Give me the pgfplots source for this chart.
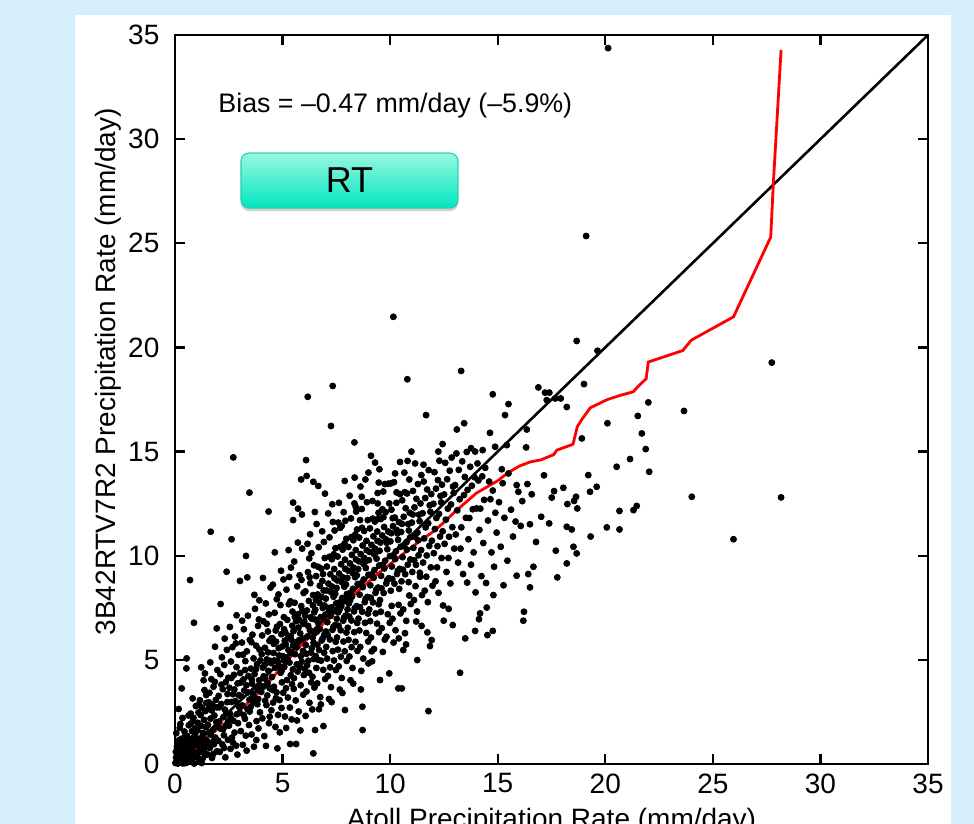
\documentclass[border=0pt]{standalone}
\usepackage{fontspec}
\setmainfont{Liberation Sans}
\usepackage{pgfplots}
\pgfplotsset{compat=1.18}
\usetikzlibrary{shadows}
\definecolor{bgblue}{RGB}{214,239,252}
\definecolor{rttop}{RGB}{152,248,224}
\definecolor{rtbot}{RGB}{0,230,192}
\definecolor{rtedge}{RGB}{40,210,176}

% quantile curve (red)
\pgfplotstableread{
x y
0 0
0.5 0.4
1 0.85
1.5 1.3
2 1.7
2.5 2.1
3 2.55
3.5 3.05
4 3.55
4.5 4.1
5 4.7
5.5 5.3
6 5.85
6.5 6.35
7 6.85
7.5 7.35
8 7.85
8.5 8.3
9 8.75
9.5 9.2
10 9.6
10.5 10.0
11 10.4
11.5 10.8
12 11.15
12.5 11.6
13 12.1
13.5 12.55
14 13.0
14.5 13.3
15 13.6
15.5 14.0
16 14.3
16.5 14.5
17 14.6
17.6 14.85
17.75 15.07
18.5 15.35
18.7 16.2
18.95 16.6
19.3 17.1
20.1 17.5
20.7 17.7
21.3 17.87
21.5 18.1
21.9 18.5
22.0 19.3
23.6 19.85
24.0 20.35
25.96 21.47
27.69 25.3
27.81 27.86
28.17 34.28
}\qqline

\begin{document}
\begin{tikzpicture}
\path[use as bounding box] (0,0) rectangle (487pt,412pt);
\clip (0,0) rectangle (487pt,412pt);
\fill[bgblue] (0,0) rectangle (487pt,412pt);
\fill[white] (37.5pt,-5pt) rectangle (475.5pt,404.5pt);
\begin{axis}[
  at={(87.5pt,30pt)}, anchor=south west,
  scale only axis, width=376.5pt, height=364.5pt,
  xmin=0, xmax=35, ymin=0, ymax=35,
  xtick={0,5,...,35}, ytick={0,5,...,35},
  tick pos=both, tick align=inside,
  major tick length=5pt,
  axis line style={line width=1.2pt},
  every tick/.style={black, line width=1.1pt},
  tick label style={font=\fontsize{14}{16}\selectfont},
  label style={font=\fontsize{14}{16}\selectfont},
  /pgf/number format/assume math mode=true,
  yticklabel style={xshift=-4.3pt},
  xticklabel style={yshift=-1.3pt},
  xlabel={Atoll Precipitation Rate (mm/day)},
  ylabel={3B42RTV7R2 Precipitation Rate (mm/day)},
  xlabel style={at={(axis description cs:0.5,-0.0878)}, anchor=base},
  ylabel style={at={(axis description cs:-0.089,0.538)}, anchor=center},
]
\addplot[only marks, mark=*, mark size=1.5pt, black] coordinates {
(0.02,0.05)(0.05,0.31)(0.08,0.12)(0.11,0.64)(0.13,0.02)(0.16,0.41)(0.19,0.93)(0.21,0.18)(0.24,0.07)(0.27,0.55)
(0.29,1.21)(0.31,0.26)(0.33,0.78)(0.36,0.03)(0.38,0.47)(0.41,1.05)(0.43,0.15)(0.46,0.69)(0.48,0.34)(0.06,1.48)
(0.14,1.12)(0.22,1.73)(0.35,2.21)(0.44,1.56)(0.09,0.83)(0.18,0.22)(0.26,0.09)(0.32,0.61)(0.39,0.88)(0.47,0.04)
(0.04,0.58)(0.12,0.36)(0.28,0.44)(0.42,0.27)(0.17,2.64)(0.31,3.63)(0.25,1.92)(0.45,1.3)
(0.52,0.21)(0.55,0.73)(0.57,1.34)(0.59,0.08)(0.62,0.52)(0.64,1.86)(0.66,0.95)(0.68,0.31)(0.71,1.17)(0.73,2.42)
(0.75,0.66)(0.77,0.14)(0.79,1.58)(0.81,0.87)(0.83,2.05)(0.85,0.43)(0.87,1.29)(0.89,0.02)(0.91,0.98)(0.93,1.71)
(0.95,0.35)(0.97,2.78)(0.99,1.12)(0.56,1.02)(0.63,2.33)(0.69,0.45)(0.74,1.94)(0.82,3.15)(0.88,0.61)(0.94,1.44)
(0.58,0.39)(0.86,2.21)(0.54,5.07)(0.53,4.59)(0.70,8.83)(0.88,6.78)
(1.02,0.34)(1.04,1.62)(1.07,0.88)(1.09,2.47)(1.11,0.12)(1.13,1.21)(1.16,3.06)(1.18,0.57)(1.21,1.83)(1.23,0.96)
(1.25,2.71)(1.28,0.25)(1.30,1.49)(1.32,0.71)(1.35,2.12)(1.37,3.55)(1.39,1.05)(1.42,0.43)(1.44,1.77)(1.46,2.93)
(1.48,0.82)(1.06,1.98)(1.14,0.62)(1.19,2.35)(1.27,1.31)(1.33,4.02)(1.41,2.54)(1.47,1.14)(1.24,0.05)(1.36,0.58)
(1.39,4.35)(1.12,2.87)(1.45,3.31)(1.22,4.64)
(1.51,0.46)(1.53,1.88)(1.55,2.64)(1.58,1.03)(1.60,3.42)(1.62,0.77)(1.65,2.18)(1.67,1.41)(1.69,4.07)(1.72,0.29)
(1.74,2.85)(1.76,1.62)(1.79,3.71)(1.81,0.95)(1.83,2.33)(1.86,5.63)(1.88,1.27)(1.90,3.08)(1.92,2.01)(1.95,0.61)
(1.97,4.51)(1.99,1.79)(1.57,2.96)(1.64,4.88)(1.71,2.57)(1.78,0.48)(1.85,3.94)(1.94,2.72)(1.66,11.15)(1.94,6.51)
(1.82,1.15)(1.59,1.52)
(2.01,1.12)(2.03,3.27)(2.06,2.04)(2.08,0.58)(2.11,4.31)(2.13,1.69)(2.15,2.88)(2.18,5.12)(2.20,0.94)(2.22,3.59)
(2.25,2.25)(2.27,1.38)(2.29,4.76)(2.32,2.61)(2.34,0.32)(2.36,3.93)(2.39,1.85)(2.41,5.48)(2.43,2.97)(2.46,1.16)
(2.48,4.14)(2.05,2.72)(2.16,3.81)(2.24,1.67)(2.31,6.02)(2.38,2.43)(2.44,3.36)(2.12,7.68)(2.40,9.23)(2.28,0.77)
(2.47,2.05)
(2.51,1.84)(2.53,3.66)(2.56,2.41)(2.58,0.73)(2.60,4.92)(2.63,2.98)(2.65,1.27)(2.67,5.61)(2.70,3.35)(2.72,2.07)
(2.74,4.28)(2.77,1.51)(2.79,6.12)(2.81,3.02)(2.84,0.88)(2.86,4.65)(2.88,2.39)(2.91,3.87)(2.93,1.96)(2.95,5.24)
(2.98,2.74)(2.55,6.58)(2.62,4.13)(2.69,1.03)(2.76,3.58)(2.83,5.79)(2.90,0.45)(2.97,3.31)(2.71,14.72)(2.63,10.79)
(2.86,7.14)(2.58,2.22)
(3.02,8.79)(3.01,2.46)(3.03,4.37)(3.06,1.58)(3.08,3.24)(3.11,5.83)(3.13,2.81)(3.15,0.92)(3.18,4.06)(3.20,6.47)
(3.22,3.53)(3.25,2.17)(3.27,4.94)(3.29,1.36)(3.32,3.78)(3.34,5.41)(3.37,2.63)(3.39,7.12)(3.41,4.22)(3.44,1.87)
(3.46,3.09)(3.48,5.96)(3.05,3.91)(3.12,6.88)(3.19,2.35)(3.26,4.51)(3.33,0.64)(3.40,3.44)(3.47,2.52)(3.30,9.99)
(3.36,8.96)(3.46,13.03)(3.16,5.25)
(3.51,2.73)(3.53,4.58)(3.56,1.42)(3.58,3.86)(3.60,6.21)(3.63,2.94)(3.65,5.07)(3.67,0.83)(3.70,4.32)(3.72,7.45)
(3.74,3.15)(3.77,5.68)(3.79,2.06)(3.81,4.79)(3.84,3.57)(3.86,6.63)(3.88,1.71)(3.91,4.02)(3.93,5.49)(3.95,2.48)
(3.98,3.76)(3.55,5.85)(3.62,3.38)(3.69,8.12)(3.76,4.55)(3.83,2.87)(3.90,6.94)(3.97,4.97)(3.64,3.23)(3.78,1.15)
(3.92,7.86)(3.57,4.05)(3.87,3.12)
(4.01,3.46)(4.03,5.27)(4.06,2.19)(4.08,4.63)(4.11,6.85)(4.13,3.72)(4.15,1.34)(4.18,5.58)(4.20,4.09)(4.22,7.71)
(4.25,2.83)(4.27,5.02)(4.29,3.29)(4.32,6.36)(4.34,4.47)(4.37,1.96)(4.39,5.91)(4.41,3.63)(4.44,8.47)(4.46,4.84)
(4.48,2.58)(4.05,6.17)(4.12,4.21)(4.19,3.04)(4.26,6.73)(4.33,5.36)(4.40,2.27)(4.47,6.02)(4.09,8.93)(4.23,0.87)
(4.36,7.18)(4.43,4.95)(4.17,4.76)(4.30,3.88)(4.35,12.12)
(4.51,4.18)(4.53,6.04)(4.56,2.95)(4.58,5.33)(4.60,3.71)(4.63,7.26)(4.65,4.62)(4.67,1.78)(4.70,5.87)(4.72,3.44)
(4.74,6.59)(4.77,4.93)(4.79,2.36)(4.81,8.14)(4.84,5.21)(4.86,3.07)(4.88,6.72)(4.91,4.38)(4.93,9.28)(4.95,2.69)
(4.98,5.64)(4.55,8.61)(4.62,4.97)(4.69,3.16)(4.76,0.75)(4.83,4.71)(4.90,7.63)(4.97,3.92)(4.59,5.77)(4.73,7.91)
(4.87,1.52)(4.94,6.23)(4.54,3.55)(4.68,6.41)(4.82,5.56)(4.96,4.49)(4.64,10.16)
(5.01,5.18)(5.03,3.42)(5.06,7.05)(5.08,4.66)(5.11,2.28)(5.13,6.31)(5.15,5.74)(5.18,8.37)(5.20,4.03)(5.22,6.92)
(5.25,3.19)(5.27,5.48)(5.29,7.67)(5.32,4.87)(5.34,2.71)(5.37,6.15)(5.39,9.43)(5.41,5.96)(5.44,3.83)(5.46,7.32)
(5.48,4.54)(5.04,8.86)(5.10,5.92)(5.17,1.73)(5.23,5.03)(5.31,8.98)(5.38,4.26)(5.45,6.64)(5.07,6.47)(5.16,3.64)
(5.28,10.27)(5.36,7.81)(5.42,2.14)(5.49,5.69)(5.35,0.96)(5.49,12.55)(5.49,11.71)(5.12,4.92)(5.26,6.05)(5.40,5.32)
(5.51,6.38)(5.53,4.12)(5.56,7.74)(5.58,5.27)(5.61,3.05)(5.63,6.86)(5.65,5.61)(5.68,8.53)(5.70,4.44)(5.72,7.19)
(5.75,2.52)(5.77,5.95)(5.79,9.06)(5.82,6.27)(5.84,3.78)(5.87,7.58)(5.89,4.91)(5.91,10.34)(5.94,6.02)(5.96,3.33)
(5.98,8.21)(5.54,9.72)(5.60,5.84)(5.67,2.09)(5.74,6.55)(5.81,4.63)(5.88,8.84)(5.95,5.43)(5.57,7.07)(5.66,4.78)
(5.78,6.91)(5.85,5.18)(5.92,7.36)(5.99,4.27)(5.52,3.61)(5.71,10.63)(5.63,0.96)(5.72,12.26)(5.86,13.66)(5.90,11.98)
(5.83,1.61)(5.97,6.73)
(6.01,6.84)(6.03,4.57)(6.06,8.29)(6.08,5.71)(6.11,3.48)(6.13,7.37)(6.15,6.12)(6.18,9.21)(6.20,4.96)(6.22,7.83)
(6.25,2.94)(6.27,6.43)(6.29,8.68)(6.32,5.35)(6.34,10.12)(6.37,6.97)(6.39,4.19)(6.41,7.62)(6.44,5.82)(6.46,9.54)
(6.48,3.67)(6.05,7.12)(6.10,5.29)(6.16,10.57)(6.23,4.38)(6.30,7.04)(6.36,5.56)(6.42,8.11)(6.49,6.28)(6.07,2.31)
(6.19,6.63)(6.26,8.97)(6.33,3.92)(6.40,6.07)(6.47,7.28)(6.14,4.74)(6.28,11.03)(6.45,5.04)(6.09,14.59)(6.12,13.83)
(6.17,17.63)(6.43,13.55)(6.50,12.1)(6.43,0.51)(6.24,9.87)(6.38,2.62)
(6.51,1.63)(6.52,7.41)(6.54,5.18)(6.56,9.02)(6.59,6.35)(6.61,3.87)(6.63,8.14)(6.66,6.76)(6.68,10.41)(6.70,5.47)
(6.73,8.56)(6.75,3.21)(6.77,7.05)(6.80,9.38)(6.82,5.93)(6.84,11.17)(6.87,7.49)(6.89,4.52)(6.91,8.33)(6.94,6.21)
(6.96,9.89)(6.98,4.08)(6.55,7.89)(6.62,5.72)(6.69,2.63)(6.74,6.48)(6.81,8.02)(6.86,6.03)(6.92,10.66)(6.99,7.17)
(6.57,4.61)(6.65,9.47)(6.72,7.73)(6.79,4.96)(6.85,8.79)(6.93,5.34)(6.58,11.52)(6.78,2.86)(6.95,7.61)(6.66,13.35)
(6.97,12.98)(6.90,1.82)(6.64,5.01)(6.88,9.12)(6.53,6.93)
(7.01,7.94)(7.03,5.62)(7.06,9.48)(7.08,6.81)(7.11,4.23)(7.13,8.66)(7.15,7.27)(7.18,10.88)(7.20,5.98)(7.22,9.11)
(7.25,3.69)(7.27,7.52)(7.29,9.83)(7.32,6.44)(7.34,11.62)(7.37,8.03)(7.39,4.97)(7.41,8.91)(7.44,6.67)(7.46,10.36)
(7.48,4.51)(7.05,8.33)(7.10,6.19)(7.16,3.12)(7.23,7.11)(7.30,8.52)(7.36,6.58)(7.42,11.21)(7.49,7.71)(7.07,5.06)
(7.19,9.95)(7.26,8.24)(7.33,5.42)(7.40,9.36)(7.47,5.87)(7.12,12.03)(7.28,2.97)(7.45,8.17)(7.33,18.15)(7.25,16.23)
(7.14,7.49)(7.38,10.07)(7.02,6.36)(7.21,4.64)(7.43,7.35)(7.31,12.47)
(7.51,8.45)(7.53,6.07)(7.56,9.96)(7.58,7.28)(7.61,4.69)(7.63,9.14)(7.65,7.76)(7.68,11.34)(7.70,6.42)(7.72,9.59)
(7.75,4.13)(7.77,7.97)(7.79,10.29)(7.82,6.88)(7.84,12.09)(7.87,8.51)(7.89,5.41)(7.91,9.37)(7.94,7.13)(7.96,10.81)
(7.98,4.95)(7.55,8.81)(7.60,6.64)(7.66,3.57)(7.73,7.58)(7.80,8.96)(7.86,7.04)(7.92,11.68)(7.99,8.16)(7.57,5.49)
(7.69,10.43)(7.76,8.72)(7.83,5.88)(7.90,9.81)(7.97,6.31)(7.62,12.54)(7.78,3.41)(7.95,8.62)(7.59,11.59)(7.75,11.43)
(7.89,13.59)(7.90,2.59)(7.64,7.39)(7.88,10.58)(7.52,6.97)(7.71,5.15)(7.93,7.84)
(8.01,8.93)(8.03,6.54)(8.06,10.42)(8.08,7.71)(8.11,5.16)(8.13,9.63)(8.15,8.22)(8.18,11.79)(8.20,6.89)(8.22,10.04)
(8.25,4.61)(8.27,8.41)(8.29,10.74)(8.32,7.33)(8.34,12.51)(8.37,8.97)(8.39,5.87)(8.41,9.82)(8.44,7.58)(8.46,11.26)
(8.48,5.43)(8.05,9.28)(8.10,7.08)(8.16,4.02)(8.23,8.04)(8.30,9.43)(8.36,7.49)(8.42,12.12)(8.49,8.64)(8.07,5.96)
(8.19,10.89)(8.26,9.17)(8.33,6.33)(8.40,10.27)(8.47,6.77)(8.12,12.88)(8.28,3.86)(8.45,9.06)(8.34,15.44)(8.35,13.75)
(8.40,12.35)(8.14,7.86)(8.38,11.02)(8.02,7.42)(8.21,5.61)
(8.51,9.36)(8.53,6.98)(8.56,10.87)(8.58,8.13)(8.61,5.62)(8.63,10.08)(8.65,8.67)(8.68,12.24)(8.70,7.31)(8.72,10.49)
(8.75,5.06)(8.77,8.86)(8.79,11.19)(8.82,7.77)(8.84,9.72)(8.87,9.41)(8.89,6.29)(8.91,10.26)(8.94,8.02)(8.96,11.71)
(8.98,5.88)(8.55,9.73)(8.60,7.53)(8.66,4.47)(8.73,8.49)(8.80,9.89)(8.86,7.93)(8.92,12.57)(8.99,9.08)(8.57,6.41)
(8.69,11.34)(8.76,9.61)(8.83,6.78)(8.90,10.71)(8.97,7.22)(8.62,13.32)(8.68,12.83)(8.60,11.71)(8.85,13.66)(8.99,13.99)
(8.72,1.63)(8.71,2.75)(8.99,4.83)(8.64,3.58)
(9.01,9.79)(9.03,7.42)(9.06,11.31)(9.08,8.58)(9.11,6.07)(9.13,10.52)(9.15,9.11)(9.18,12.63)(9.20,7.76)(9.22,10.93)
(9.25,5.52)(9.27,9.31)(9.29,11.64)(9.32,8.22)(9.34,10.17)(9.37,9.86)(9.39,6.74)(9.41,10.71)(9.44,8.47)(9.46,12.06)
(9.48,6.33)(9.05,10.18)(9.10,7.98)(9.16,4.93)(9.23,8.94)(9.30,10.34)(9.36,8.38)(9.42,13.01)(9.49,9.53)(9.07,6.86)
(9.19,11.78)(9.26,10.06)(9.33,7.23)(9.40,11.16)(9.47,7.67)(9.11,14.8)(9.30,14.47)(9.41,11.75)(9.42,12.51)(9.47,13.51)
(9.50,14.15)(9.14,5.41)
(9.51,10.24)(9.53,7.87)(9.56,11.76)(9.58,9.03)(9.61,6.52)(9.63,10.97)(9.65,9.56)(9.68,13.08)(9.70,8.21)(9.72,11.38)
(9.75,5.97)(9.77,9.76)(9.79,12.09)(9.82,8.67)(9.84,10.62)(9.87,10.31)(9.89,7.19)(9.91,11.16)(9.94,8.92)(9.96,12.51)
(9.98,6.78)(9.55,10.63)(9.60,8.43)(9.66,5.38)(9.73,9.39)(9.80,10.79)(9.86,8.83)(9.92,13.46)(9.99,9.98)(9.57,7.31)
(9.69,11.85)(9.76,13.44)(9.53,4.03)(9.96,4.35)(9.83,6.11)(9.64,12.23)
(10.01,10.69)(10.03,8.32)(10.06,12.21)(10.08,9.48)(10.11,6.97)(10.13,11.42)(10.15,10.01)(10.18,13.53)(10.20,8.66)(10.22,11.83)
(10.25,6.42)(10.27,10.21)(10.29,12.54)(10.32,9.12)(10.34,11.07)(10.37,10.76)(10.39,7.64)(10.41,11.61)(10.44,9.37)(10.46,12.96)
(10.48,7.23)(10.05,11.08)(10.10,8.88)(10.16,5.83)(10.23,9.84)(10.30,11.24)(10.36,9.28)(10.42,8.41)(10.49,10.43)(10.03,13.47)
(10.12,11.8)(10.15,21.47)(10.23,13.95)(10.30,13.04)(10.46,14.5)(10.38,3.63)(10.07,7.59)(10.40,6.03)
(10.51,11.14)(10.53,8.77)(10.56,12.66)(10.58,9.93)(10.61,7.42)(10.63,11.87)(10.65,10.46)(10.68,13.05)(10.70,9.11)(10.72,12.28)
(10.75,6.87)(10.77,10.66)(10.79,12.99)(10.82,9.57)(10.84,11.52)(10.87,11.21)(10.89,8.09)(10.91,12.06)(10.94,9.82)(10.96,7.68)
(10.55,11.53)(10.60,9.33)(10.69,6.28)(10.78,10.29)(10.86,8.73)(10.93,10.88)(10.54,3.63)(10.61,5.47)(10.66,13.99)(10.80,18.47)
(10.81,14.55)(10.89,13.66)(10.99,15.0)(10.74,5.74)
(11.01,11.59)(11.03,9.22)(11.06,13.11)(11.08,10.38)(11.11,7.87)(11.13,12.32)(11.15,10.91)(11.18,8.54)(11.20,9.56)(11.22,12.73)
(11.25,7.32)(11.27,11.11)(11.29,13.44)(11.32,10.02)(11.34,11.97)(11.37,11.66)(11.39,8.99)(11.41,12.51)(11.44,10.27)(11.46,6.63)
(11.05,11.98)(11.12,9.78)(11.21,6.84)(11.30,10.74)(11.38,9.18)(11.45,13.87)(11.16,14.43)(11.26,4.99)(11.48,8.11)
(11.51,12.04)(11.53,9.67)(11.56,13.56)(11.58,10.83)(11.61,8.32)(11.63,12.77)(11.65,11.36)(11.68,8.99)(11.70,10.01)(11.72,13.18)
(11.75,7.77)(11.77,11.56)(11.79,14.11)(11.82,10.47)(11.84,12.42)(11.87,12.11)(11.89,9.44)(11.91,12.96)(11.94,10.72)(11.97,8.56)
(11.67,16.75)(11.73,6.32)(11.85,5.66)(11.93,5.95)(11.78,2.54)(11.55,14.37)
(12.01,12.49)(12.03,10.12)(12.06,14.01)(12.08,11.28)(12.11,8.77)(12.13,13.22)(12.15,11.81)(12.18,9.44)(12.20,10.46)(12.22,13.63)
(12.25,8.22)(12.27,12.01)(12.29,14.56)(12.32,10.92)(12.34,12.87)(12.37,12.56)(12.39,9.89)(12.41,13.41)(12.44,11.17)(12.46,7.61)
(12.24,15.0)(12.44,15.36)(12.49,6.88)
(12.51,12.94)(12.53,10.57)(12.56,14.46)(12.59,11.73)(12.62,9.22)(12.65,13.67)(12.68,12.26)(12.71,9.89)(12.74,10.91)(12.77,14.08)
(12.80,8.67)(12.83,12.46)(12.86,14.71)(12.89,11.37)(12.92,13.32)(12.95,13.01)(12.98,10.34)(12.91,6.67)(12.72,7.45)
(13.02,13.39)(13.05,11.02)(13.08,14.91)(13.12,12.18)(13.16,9.67)(13.19,14.12)(13.23,12.71)(13.27,10.34)(13.31,11.36)(13.35,14.53)
(13.39,9.12)(13.43,12.91)(13.47,13.78)(13.10,16.06)(13.30,18.87)(13.25,4.38)(13.44,16.36)(13.49,6.03)
(13.52,11.82)(13.56,14.98)(13.60,13.16)(13.64,10.79)(13.68,11.81)(13.72,14.27)(13.76,9.57)(13.80,13.36)(13.84,12.23)(13.88,10.16)
(13.92,13.77)(13.97,8.24)(13.76,15.16)(13.95,15.0)(13.95,6.39)(13.58,8.71)
(14.02,12.27)(14.06,14.43)(14.10,13.61)(14.15,11.24)(14.19,12.26)(14.24,9.02)(14.28,13.81)(14.33,10.61)(14.37,12.68)(14.42,14.22)
(14.46,8.69)(14.13,6.95)(14.18,7.23)(14.30,15.07)(14.49,7.51)(14.52,6.19)(14.64,15.9)
(14.55,11.69)(14.60,13.56)(14.66,12.71)(14.71,10.16)(14.77,13.13)(14.83,9.47)(14.89,12.06)(14.95,11.11)(14.77,17.75)(14.77,6.39)
(14.80,8.11)(14.88,15.23)
(15.06,12.57)(15.14,10.43)(15.23,13.48)(15.31,11.82)(15.45,9.76)(15.62,12.21)(15.71,10.92)(15.83,11.64)(15.19,14.15)(15.34,16.75)
(15.42,15.31)(15.50,17.28)(15.50,13.95)(15.88,13.39)(15.96,13.07)(15.88,9.04)(15.27,8.58)
(16.07,11.43)(16.22,7.31)(16.19,6.88)(16.32,15.2)(16.35,16.06)(16.38,13.44)(16.42,9.12)(16.50,8.48)(16.50,11.51)(16.66,9.47)
(16.89,18.08)(16.14,12.62)(16.58,12.95)(16.78,10.66)
(17.02,11.87)(17.20,17.83)(17.28,17.47)(17.40,17.83)(17.39,11.55)(17.51,12.79)(17.62,13.10)(17.67,17.55)(17.70,10.24)(17.77,8.96)
(17.93,17.55)(17.15,13.86)
(18.05,13.26)(18.21,17.14)(18.21,11.39)(18.21,9.63)(18.24,12.48)(18.44,11.26)(18.52,10.43)(18.55,12.63)(18.64,12.83)(18.67,10.11)
(18.67,20.31)(18.70,12.27)(18.91,15.63)
(19.01,18.24)(19.11,25.35)(19.21,13.87)(19.29,13.07)(19.32,10.92)(19.60,13.31)(19.64,19.84)(20.07,11.36)(20.10,16.36)(20.13,34.37)
(20.53,14.27)(20.66,12.15)(20.66,11.26)(21.15,14.64)(21.31,12.19)(21.46,12.39)(21.51,16.71)(21.70,15.87)(21.88,15.12)(22.00,17.36)
(22.04,14.03)(23.66,16.95)(24.02,12.83)(25.96,10.79)(27.74,19.27)(28.17,12.80)
};
\addplot[black, line width=1.3pt] coordinates {(0,0) (35,35)};
\addplot[red, line width=1.4pt] table {\qqline};
\node[anchor=base west, inner sep=0pt, font=\fontsize{13.4}{15}\selectfont]
  at (axis cs:2.0,31.3) {Bias = –0.47 mm/day (–5.9\%)};
\node[draw=rtedge, line width=0.6pt, rounded corners=4pt,
  top color=rttop, bottom color=rtbot,
  minimum width=108.5pt, minimum height=27.5pt, inner sep=0pt,
  drop shadow={shadow xshift=0pt, shadow yshift=-1.5pt, opacity=0.3, fill=black!60},
  font=\fontsize{18}{20}\selectfont]
  at (axis cs:8.11,28.01) {RT};
\end{axis}
\end{tikzpicture}
\end{document}
